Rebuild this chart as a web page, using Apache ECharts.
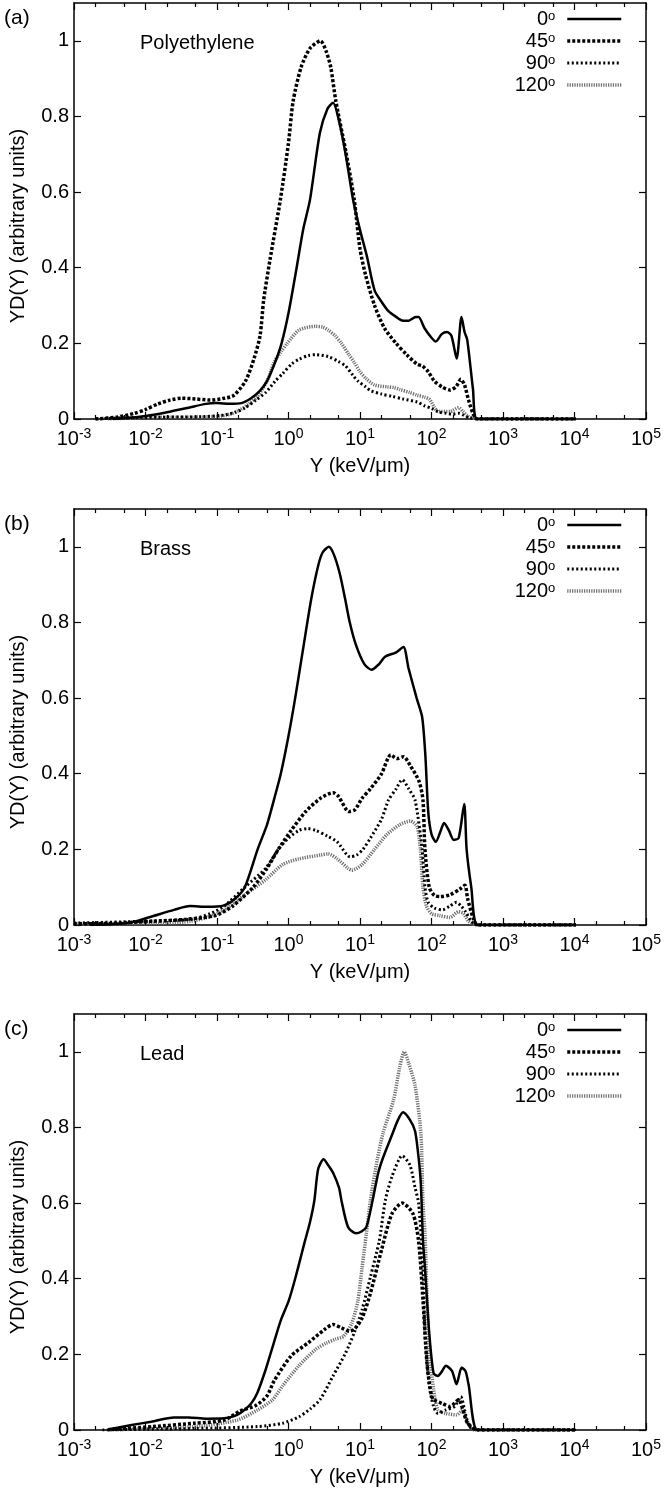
<!DOCTYPE html>
<html>
<head>
<meta charset="utf-8">
<script src="https://cdn.jsdelivr.net/npm/echarts@6/dist/echarts.min.js"></script>
<style>
  html, body { margin: 0; padding: 0; background: #fff; }
  #chart { width: 664px; height: 1492px; }
</style>
</head>
<body>
<div id="chart"></div>
<script>
// legend entries (angles, degrees)
const angles = ['0', '45', '90', '120'];
// log axis: decade ticks and the 2 / 5 minor ticks
const majorTicks = [1e-3, 1e-2, 1e-1, 1, 10, 100, 1000, 1e4, 1e5];
const minorTicks = [0.002, 0.005, 0.02, 0.05, 0.2, 0.5, 2, 5, 20, 50, 200, 500, 2000, 5000, 20000, 50000];
const yTicks = [0, 0.2, 0.4, 0.6, 0.8, 1];

const materials = ['Polyethylene', 'Brass', 'Lead'];
const panelLetters = ['(a)', '(b)', '(c)'];

// (a) Polyethylene  -  [Y (keV/um), YD(Y)]
const poly0 = [[0.0035,0],[0.006,0.003],[0.01,0.008],[0.02,0.018],[0.04,0.03],[0.07,0.04],[0.1,0.042],[0.15,0.04],[0.22,0.042],[0.3,0.055],[0.4,0.075],[0.5,0.1],[0.65,0.15],[0.8,0.2],[1.0,0.28],[1.3,0.4],[1.6,0.5],[2.0,0.58],[2.75,0.757],[3.5,0.82],[4.2,0.836],[5.2,0.78],[6.3,0.7],[8,0.58],[10,0.5],[12.5,0.43],[16,0.34],[20,0.31],[25,0.285],[32,0.27],[40,0.26],[48,0.26],[60,0.27],[66,0.27],[80,0.24],[100,0.215],[115,0.205],[140,0.225],[165,0.23],[190,0.22],[225,0.16],[263,0.27],[290,0.23],[316,0.21],[380,0.08],[436,0],[1000,0],[10500,0]];
const poly45 = [[0.002,0],[0.004,0.005],[0.007,0.015],[0.01,0.025],[0.015,0.04],[0.022,0.05],[0.032,0.055],[0.05,0.053],[0.08,0.05],[0.12,0.054],[0.17,0.062],[0.25,0.1],[0.33,0.16],[0.4,0.22],[0.45,0.315],[0.55,0.42],[0.77,0.58],[1.0,0.73],[1.16,0.84],[1.5,0.93],[2.0,0.98],[2.8,1.0],[3.4,0.97],[3.9,0.93],[4.6,0.84],[6.3,0.71],[8.3,0.58],[10,0.45],[12,0.38],[16,0.3],[22,0.24],[32,0.2],[45,0.17],[63,0.145],[75,0.14],[90,0.125],[110,0.1],[140,0.085],[180,0.077],[220,0.085],[257,0.105],[290,0.09],[330,0.05],[380,0.015],[436,0],[1000,0],[10500,0]];
const poly90 = [[0.002,0],[0.005,0.003],[0.02,0.005],[0.06,0.006],[0.12,0.01],[0.18,0.018],[0.25,0.03],[0.35,0.05],[0.48,0.07],[0.65,0.1],[0.83,0.12],[1.1,0.145],[1.4,0.158],[1.9,0.168],[2.4,0.17],[3.6,0.165],[5,0.152],[6.3,0.14],[8,0.115],[9.4,0.1],[12,0.085],[14,0.075],[20,0.066],[28,0.06],[40,0.053],[63,0.045],[80,0.035],[100,0.028],[130,0.018],[160,0.015],[200,0.013],[240,0.015],[280,0.01],[330,0.004],[436,0],[1000,0],[10500,0]];
const poly120 = [[0.003,0],[0.01,0.004],[0.05,0.005],[0.1,0.007],[0.15,0.012],[0.2,0.022],[0.28,0.04],[0.37,0.06],[0.5,0.1],[0.63,0.15],[0.8,0.18],[0.96,0.2],[1.4,0.235],[2.4,0.245],[3.0,0.243],[3.6,0.235],[4.5,0.22],[5.5,0.2],[7,0.17],[8.3,0.15],[10,0.125],[12,0.108],[16,0.09],[24,0.085],[30,0.083],[36,0.078],[50,0.07],[63,0.063],[80,0.058],[94,0.052],[110,0.03],[123,0.02],[182,0.02],[240,0.03],[275,0.02],[320,0.008],[436,0],[1000,0],[10500,0]];

// (b) Brass
const brass0 = [[0.0017,0],[0.0056,0.005],[0.011,0.02],[0.025,0.04],[0.042,0.05],[0.073,0.048],[0.126,0.052],[0.18,0.07],[0.245,0.1],[0.37,0.2],[0.5,0.265],[0.63,0.333],[0.78,0.4],[1.0,0.5],[1.24,0.6],[1.6,0.73],[2.08,0.862],[2.6,0.95],[3.0,0.985],[3.66,1.0],[4.3,0.98],[5.2,0.93],[6.2,0.862],[7.2,0.8],[8.8,0.74],[11.5,0.69],[14.5,0.675],[18.5,0.69],[22.6,0.71],[31.5,0.72],[40.5,0.735],[47.6,0.68],[62,0.6],[74,0.55],[82,0.45],[90,0.3],[100,0.24],[115,0.22],[135,0.25],[150,0.27],[175,0.25],[205,0.225],[240,0.23],[287,0.32],[310,0.2],[360,0.1],[441,0],[1000,0],[10500,0]];
const brass45 = [[0.001,0.003],[0.003,0.004],[0.0126,0.01],[0.037,0.015],[0.095,0.025],[0.166,0.05],[0.32,0.1],[0.5,0.15],[0.72,0.2],[1.09,0.25],[1.74,0.3],[2.8,0.335],[4.2,0.35],[5,0.34],[7,0.3],[8.5,0.305],[10.7,0.335],[14,0.36],[20,0.4],[27,0.45],[33,0.44],[40.6,0.445],[51,0.42],[67,0.38],[76,0.33],[81,0.2],[93,0.1],[110,0.078],[131,0.075],[182,0.08],[250,0.095],[294,0.105],[320,0.07],[380,0.02],[441,0],[1000,0],[10500,0]];
const brass90 = [[0.001,0.005],[0.01,0.01],[0.043,0.015],[0.08,0.03],[0.126,0.05],[0.245,0.1],[0.48,0.15],[0.72,0.2],[1.0,0.23],[1.4,0.25],[1.85,0.255],[2.4,0.25],[3.5,0.235],[4.8,0.22],[7.3,0.18],[9,0.185],[11,0.2],[14,0.23],[20,0.28],[25,0.33],[32,0.36],[39,0.384],[48,0.36],[59,0.33],[74,0.2],[81,0.1],[90,0.06],[110,0.045],[142,0.04],[180,0.05],[224,0.06],[260,0.05],[300,0.035],[360,0.01],[441,0],[1000,0],[10500,0]];
const brass120 = [[0.001,0.004],[0.02,0.005],[0.043,0.01],[0.073,0.02],[0.126,0.04],[0.245,0.08],[0.48,0.12],[0.83,0.16],[1.4,0.175],[2.8,0.185],[3.6,0.188],[4.8,0.175],[6.8,0.15],[7.7,0.145],[10.7,0.16],[16,0.2],[24,0.24],[36,0.265],[51,0.275],[63,0.26],[70,0.2],[76,0.1],[85,0.05],[100,0.03],[130,0.025],[180,0.02],[240,0.035],[280,0.03],[330,0.01],[420,0],[1000,0],[10500,0]];

// (c) Lead
const lead0 = [[0.0031,0.002],[0.0064,0.013],[0.012,0.022],[0.025,0.033],[0.04,0.033],[0.07,0.03],[0.126,0.031],[0.17,0.036],[0.21,0.044],[0.3,0.07],[0.37,0.1],[0.48,0.16],[0.6,0.22],[0.78,0.29],[1.0,0.34],[1.24,0.4],[1.7,0.5],[2.0,0.55],[2.3,0.607],[2.6,0.69],[3.1,0.716],[3.6,0.7],[4.2,0.68],[5.1,0.64],[5.5,0.607],[6.8,0.537],[8.8,0.52],[10.5,0.525],[12.3,0.537],[15,0.607],[18,0.68],[21,0.72],[28,0.78],[34,0.82],[40,0.84],[50,0.82],[59,0.79],[66,0.72],[71,0.65],[76,0.5],[81,0.43],[93,0.257],[107,0.15],[123,0.143],[140,0.155],[159,0.17],[194,0.156],[224,0.121],[264,0.165],[300,0.155],[330,0.12],[441,0],[1000,0],[10500,0]];
const lead45 = [[0.003,0.001],[0.0126,0.009],[0.049,0.018],[0.126,0.026],[0.21,0.05],[0.35,0.065],[0.5,0.09],[0.63,0.13],[1.09,0.196],[1.9,0.231],[3.2,0.266],[4.2,0.279],[5.5,0.27],[7,0.262],[8.3,0.266],[10.7,0.296],[14,0.362],[20,0.476],[28,0.572],[39,0.6],[55,0.572],[66,0.5],[76,0.344],[87,0.17],[100,0.09],[107,0.08],[142,0.07],[182,0.062],[240,0.08],[275,0.053],[320,0.018],[441,0],[1000,0],[10500,0]];
const lead90 = [[0.0025,0],[0.01,0.002],[0.05,0.004],[0.37,0.009],[0.83,0.018],[1.4,0.035],[2.0,0.055],[2.8,0.082],[4.2,0.143],[6.3,0.204],[8.3,0.257],[10.7,0.318],[14,0.405],[18.6,0.5],[22.6,0.607],[28,0.67],[39,0.725],[50,0.7],[59,0.64],[66,0.6],[76,0.43],[81,0.257],[93,0.117],[107,0.062],[123,0.044],[159,0.053],[210,0.062],[257,0.088],[290,0.053],[340,0.009],[441,0],[1000,0],[10500,0]];
const lead120 = [[0.003,0],[0.049,0.009],[0.19,0.026],[0.37,0.053],[0.6,0.08],[0.83,0.117],[1.4,0.17],[2.4,0.213],[3.4,0.23],[4.5,0.24],[5.9,0.248],[7.7,0.283],[9.3,0.34],[10.7,0.43],[12.3,0.52],[14,0.607],[17.4,0.714],[21,0.785],[29.5,0.873],[36,0.96],[41.5,1.0],[48,0.97],[59,0.91],[71,0.785],[76,0.6],[81,0.52],[87,0.344],[93,0.213],[107,0.108],[123,0.053],[159,0.044],[224,0.04],[275,0.053],[310,0.026],[400,0],[1000,0],[10500,0]];

const panels = [
  [poly0, poly45, poly90, poly120],
  [brass0, brass45, brass90, brass120],
  [lead0, lead45, lead90, lead120]
];

const font = "'Liberation Sans', Arial, Helvetica, sans-serif";
const gridTops = [3, 509, 1014];
const gridH = 416;

// line look for each angle
const lineStyles = [
  { color: '#000', width: 2.5, type: 'solid' },
  { color: '#000', width: 3.5, type: [3, 2] },
  { color: '#000', width: 3, type: [2, 2.5] },
  { color: '#6e6e6e', width: 3.5, type: [1.2, 1.2] }
];

const grids = [], xAxes = [], yAxes = [], series = [], legends = [], titles = [];

gridTops.forEach((top, g) => {
  grids.push({ left: 68, right: 17, top: top, height: gridH });

  const logBase = { type: 'log', logBase: 10, min: 1e-3, max: 1e5, gridIndex: g, splitNumber: 10, splitLine: { show: false } };
  // bottom, decades
  xAxes.push(Object.assign({}, logBase, {
    position: 'bottom',
    name: 'Y (keV/\u03bcm)',
    nameLocation: 'middle',
    nameGap: 37,
    nameTextStyle: { fontFamily: font, fontSize: 20, color: '#000' },
    axisLine: { lineStyle: { color: '#000', width: 1.5 } },
    axisTick: { inside: true, length: 7, customValues: majorTicks, lineStyle: { color: '#000', width: 1.2 } },
    axisLabel: {
      margin: 8,
      customValues: majorTicks,
      formatter: v => '{b|10}{s|' + Math.round(Math.log10(v)) + '}',
      rich: {
        b: { fontFamily: font, fontSize: 20, lineHeight: 25, color: '#000' },
        s: { fontFamily: font, fontSize: 14, lineHeight: 14, verticalAlign: 'top', color: '#000' }
      }
    }
  }));
  // bottom, minor ticks
  xAxes.push(Object.assign({}, logBase, {
    position: 'bottom',
    axisLine: { show: false },
    axisLabel: { show: false },
    axisTick: { inside: true, length: 4, customValues: minorTicks, lineStyle: { color: '#000', width: 1.2 } }
  }));
  // top mirror, decades
  xAxes.push(Object.assign({}, logBase, {
    position: 'top',
    axisLine: { lineStyle: { color: '#000', width: 1.5 } },
    axisLabel: { show: false },
    axisTick: { inside: true, length: 7, customValues: majorTicks, lineStyle: { color: '#000', width: 1.2 } }
  }));
  // top mirror, minor
  xAxes.push(Object.assign({}, logBase, {
    position: 'top',
    axisLine: { show: false },
    axisLabel: { show: false },
    axisTick: { inside: true, length: 4, customValues: minorTicks, lineStyle: { color: '#000', width: 1.2 } }
  }));

  const valBase = { type: 'value', min: 0, max: 1.1, interval: 0.2, gridIndex: g, splitLine: { show: false } };
  yAxes.push(Object.assign({}, valBase, {
    position: 'left',
    name: 'YD(Y) (arbitrary units)',
    nameLocation: 'middle',
    nameGap: 46,
    nameTextStyle: { fontFamily: font, fontSize: 20, color: '#000', padding: [0, 30, 0, 0] },
    axisLine: { lineStyle: { color: '#000', width: 1.5 } },
    axisTick: { inside: true, length: 7, customValues: yTicks, lineStyle: { color: '#000', width: 1.2 } },
    axisLabel: {
      margin: 5,
      customValues: yTicks,
      fontFamily: font, fontSize: 20, color: '#000',
      formatter: v => String(Math.round(v * 10) / 10)
    }
  }));
  yAxes.push(Object.assign({}, valBase, {
    position: 'right',
    axisLine: { lineStyle: { color: '#000', width: 1.5 } },
    axisTick: { inside: true, length: 7, customValues: yTicks, lineStyle: { color: '#000', width: 1.2 } },
    axisLabel: { show: false }
  }));

  panels[g].forEach((data, i) => {
    series.push({
      name: angles[i],
      type: 'line',
      xAxisIndex: g * 4,
      yAxisIndex: g * 2,
      data: data,
      symbol: 'none',
      smooth: 0.25,
      lineStyle: lineStyles[i],
      itemStyle: { color: lineStyles[i].color },
      z: 4 - i
    });
  });

  legends.push({
    data: angles,
    orient: 'vertical',
    align: 'right',
    right: 41,
    top: top + 6,
    padding: 0,
    itemWidth: 54,
    itemHeight: 14,
    itemGap: 2,
    selectedMode: false,
    formatter: n => n + '{o|o}',
    itemStyle: { color: 'transparent', borderWidth: 0, opacity: 0 },
    lineStyle: { width: 'inherit' },
    textStyle: {
      fontFamily: font, fontSize: 20, lineHeight: 18, color: '#000',
      padding: [0, 7, 0, 0],
      rich: { o: { fontFamily: font, fontSize: 13, lineHeight: 12, verticalAlign: 'top', color: '#000' } }
    }
  });

  titles.push({
    text: panelLetters[g], left: 4, top: top + 5, padding: 0,
    textStyle: { fontFamily: font, fontSize: 21, fontWeight: 'normal', color: '#000' }
  });
  titles.push({
    text: materials[g], left: 140, top: top + 30, padding: 0,
    textStyle: { fontFamily: font, fontSize: 20, fontWeight: 'normal', color: '#000' }
  });
});

const chart = echarts.init(document.getElementById('chart'));
chart.setOption({
  animation: false,
  backgroundColor: '#fff',
  title: titles,
  legend: legends,
  grid: grids,
  xAxis: xAxes,
  yAxis: yAxes,
  series: series
});
</script>
</body>
</html>
